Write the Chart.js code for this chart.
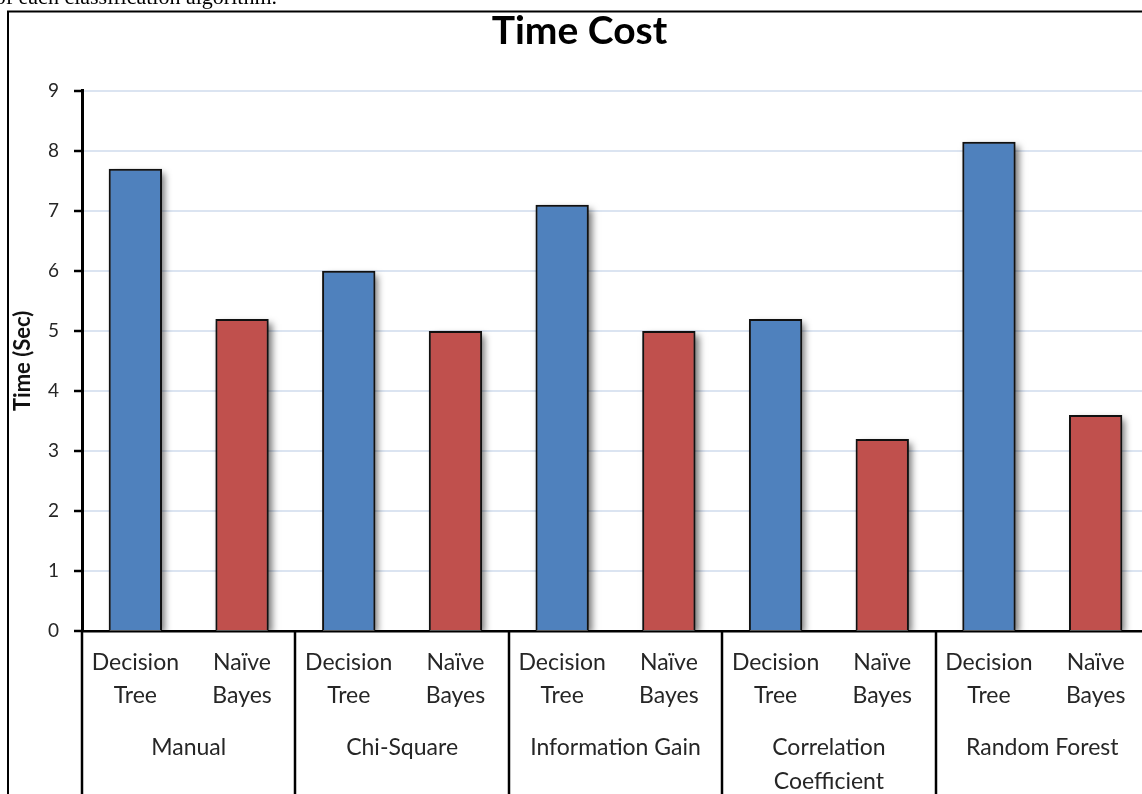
<!DOCTYPE html>
<html><head><meta charset="utf-8">
<script src="https://cdn.jsdelivr.net/npm/chart.js@4"></script>
<style>
html,body{margin:0;padding:0;overflow:hidden;background:#fff;width:1142px;height:794px;}
#wrap{position:absolute;left:0;top:0;width:1165px;height:840px;z-index:1;}
#cap{position:absolute;top:-14px;right:865px;font-family:"Liberation Serif",serif;font-size:22px;line-height:22px;white-space:nowrap;color:#000;z-index:2;}
</style></head><body>
<div id="cap">the performance of each classification algorithm.</div>
<div id="wrap"><canvas id="c" width="1165" height="840"></canvas></div>
<script>
// ---- data ----
const methods = ["Manual", "Chi-Square", "Information Gain", ["Correlation", "Coefficient"], "Random Forest"];
const classifiers = [["Decision", "Tree"], ["Naïve", "Bayes"]];
const decisionTree = [7.7, 6.0, 7.1, 5.2, 8.15];
const naiveBayes = [5.2, 5.0, 5.0, 3.2, 3.6];
const yMin = 0, yMax = 9, yStep = 1;
const titleText = "Time Cost";
const yTitle = "Time (Sec)";

// ---- build flat arrays from the named ones ----
const labels = [];
const values = [];
const colors = [];
const seriesValues = [decisionTree, naiveBayes];
const seriesColors = ["#4F81BD", "#C0504D"];
methods.forEach((m, i) => {
  classifiers.forEach((c, j) => {
    labels.push(c);
    values.push(seriesValues[j][i]);
    colors.push(seriesColors[j]);
  });
});

const FONT = "Lato";
const TEXT = "#262626";

const framePlugin = {
  id: "frame",
  beforeDraw(chart) {
    const ctx = chart.ctx;
    ctx.save();
    ctx.strokeStyle = "#000";
    ctx.lineWidth = 2;
    ctx.strokeRect(8, 11.5, 1150, 900);
    ctx.restore();
  },
  beforeDatasetsDraw(chart) {
    // soft drop shadow behind each bar, from the bar elements' own geometry
    const ctx = chart.ctx;
    const a = chart.chartArea;
    const meta = chart.getDatasetMeta(0);
    ctx.save();
    ctx.beginPath();
    ctx.rect(a.left, 0, a.right - a.left + 30, a.bottom);
    ctx.clip();
    ctx.shadowColor = "rgba(0,0,0,0.55)";
    ctx.shadowBlur = 7;
    ctx.shadowOffsetX = 4;
    ctx.shadowOffsetY = 3;
    ctx.fillStyle = "#555";
    meta.data.forEach(el => {
      const p = el.getProps(["x", "y", "base", "width"], true);
      ctx.fillRect(p.x - p.width / 2 + 1, p.y + 1, p.width - 2, p.base - p.y);
    });
    ctx.restore();
  },
  afterDraw(chart) {
    const ctx = chart.ctx;
    const a = chart.chartArea;
    const xs = chart.scales.x;
    const n = labels.length;
    const slot = (a.right - a.left) / n;
    const per = classifiers.length;
    ctx.save();
    ctx.strokeStyle = "#000";
    ctx.lineWidth = 2.5;
    for (let g = 0; g <= methods.length; g++) {
      const px = Math.round(a.left + g * per * slot);
      ctx.beginPath();
      ctx.moveTo(px, a.bottom);
      ctx.lineTo(px, chart.height);
      ctx.stroke();
    }
    ctx.fillStyle = TEXT;
    ctx.font = "23px " + FONT;
    ctx.textAlign = "center";
    ctx.textBaseline = "middle";
    methods.forEach((m, g) => {
      const cx = (xs.getPixelForValue(g * per) + xs.getPixelForValue(g * per + per - 1)) / 2;
      const lines = Array.isArray(m) ? m : [m];
      lines.forEach((t, k) => {
        ctx.fillText(t, cx, a.bottom + 117 + k * 34);
      });
    });
    ctx.restore();
  }
};

new Chart(document.getElementById("c"), {
  type: "bar",
  data: {
    labels: labels,
    datasets: [{
      data: values,
      backgroundColor: colors,
      borderColor: "#111",
      borderWidth: 2,
      barPercentage: 0.5,
      categoryPercentage: 1.0,
      clip: {left: 10, right: 10, top: 10, bottom: 0}
    }]
  },
  options: {
    responsive: false,
    devicePixelRatio: 1,
    animation: false,
    layout: {padding: {left: 10, top: 0, right: 16, bottom: 0}},
    plugins: {
      legend: {display: false},
      tooltip: {enabled: false},
      title: {
        display: true,
        text: titleText,
        color: "#000",
        font: {family: FONT, size: 39, weight: "bold"},
        padding: {top: 8, bottom: 36}
      }
    },
    scales: {
      x: {
        grid: {display: false, drawTicks: false},
        border: {display: true, color: "#000", width: 2.5},
        ticks: {
          color: TEXT,
          font: {family: FONT, size: 23, lineHeight: 1.435},
          padding: 15,
          maxRotation: 0,
          autoSkip: false
        },
        afterFit(s) { s.height = 840 - 631; }
      },
      y: {
        min: yMin,
        max: yMax,
        ticks: {
          stepSize: yStep,
          color: TEXT,
          font: {family: FONT, size: 19},
          padding: 15
        },
        grid: {
          color: "#dbe4f1",
          lineWidth: 2,
          tickColor: "#000",
          tickWidth: 2.5,
          tickLength: 8
        },
        border: {display: true, color: "#000", width: 3},
        title: {
          display: true,
          text: yTitle,
          color: "#111",
          font: {family: FONT, size: 22, weight: "bold"},
          padding: {top: 0, bottom: 0}
        },
        afterFit(s) { s.width = 72; }
      }
    }
  },
  plugins: [framePlugin]
});
</script>
</body></html>
